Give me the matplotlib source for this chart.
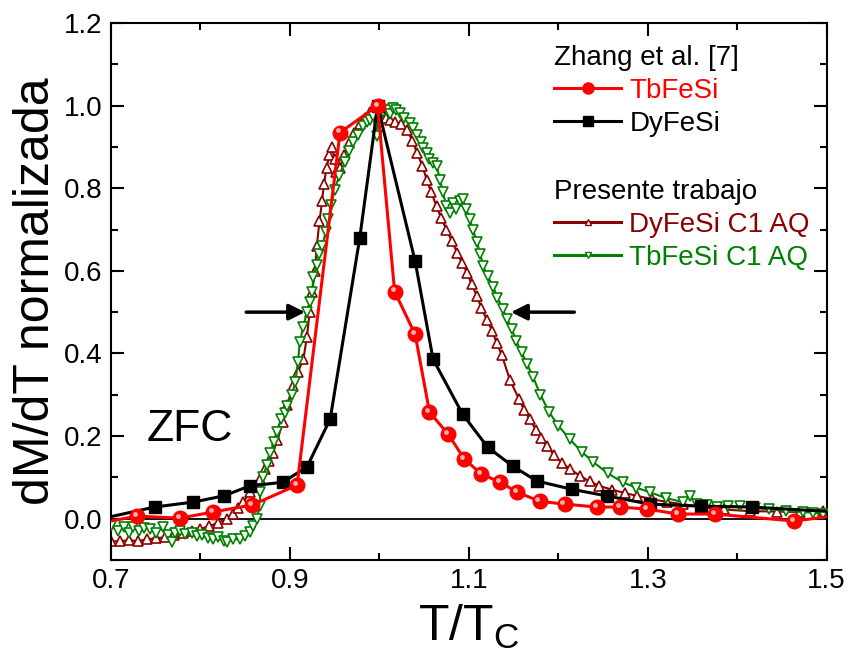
import matplotlib.pyplot as plt
from matplotlib.lines import Line2D
from matplotlib.ticker import MultipleLocator, FixedLocator
from matplotlib.transforms import offset_copy

plt.rcParams['font.family'] = ['Liberation Sans', 'DejaVu Sans']
plt.rcParams['mathtext.fontset'] = 'custom'
plt.rcParams['mathtext.rm'] = 'Liberation Sans'

# Zhang et al. [7] - TbFeSi (red circles)
tb_x = [0.69, 0.729, 0.777, 0.814, 0.858, 0.908, 0.956, 0.998, 1.017, 1.040, 1.056, 1.077,
        1.095, 1.114, 1.135, 1.154, 1.179, 1.207, 1.243, 1.269, 1.299, 1.334, 1.375, 1.464, 1.52]
tb_y = [-0.01, 0.006, 0.001, 0.016, 0.033, 0.081, 0.935, 1.0, 0.55, 0.446, 0.258, 0.204,
        0.144, 0.108, 0.088, 0.064, 0.042, 0.035, 0.028, 0.028, 0.023, 0.011, 0.011, -0.006, 0.01]

# Zhang et al. [7] - DyFeSi (black squares)
dy_x = [0.69, 0.749, 0.792, 0.826, 0.855, 0.892, 0.919, 0.945, 0.978, 0.998, 1.040, 1.060,
        1.093, 1.121, 1.149, 1.176, 1.215, 1.254, 1.302, 1.36, 1.416, 1.52]
dy_y = [0.0, 0.028, 0.040, 0.055, 0.079, 0.088, 0.125, 0.241, 0.679, 1.0, 0.623, 0.386,
        0.253, 0.173, 0.127, 0.091, 0.071, 0.055, 0.035, 0.03, 0.028, 0.015]

# Presente trabajo - DyFeSi C1 AQ (dark red open up-triangles)
dyaq_x = [0.700, 0.710, 0.720, 0.730, 0.740, 0.750, 0.760, 0.770, 0.780, 0.790, 0.800, 0.810,
          0.820, 0.830, 0.836, 0.842, 0.848, 0.855, 0.860, 0.866, 0.872, 0.877, 0.881, 0.886,
          0.892, 0.897, 0.903, 0.909, 0.915, 0.919, 0.922, 0.925, 0.928, 0.930, 0.933, 0.936,
          0.938, 0.941, 0.944, 0.947, 0.950, 0.952, 0.956, 0.960, 0.966, 0.972, 0.978, 0.984,
          0.990, 0.996, 1.002, 1.007, 1.012, 1.018, 1.024, 1.031, 1.037, 1.042, 1.048, 1.053,
          1.058, 1.064, 1.069, 1.075, 1.081, 1.087, 1.092, 1.098, 1.103, 1.109, 1.114, 1.120,
          1.126, 1.131, 1.137, 1.146, 1.156, 1.162, 1.168, 1.175, 1.181, 1.187, 1.195, 1.204,
          1.213, 1.224, 1.235, 1.246, 1.260, 1.274, 1.288, 1.305, 1.322, 1.339, 1.360, 1.385,
          1.414, 1.445, 1.470, 1.496]
dyaq_y = [-0.055, -0.055, -0.052, -0.055, -0.050, -0.048, -0.045, -0.040, -0.036, -0.030, -0.025, -0.018,
          -0.010, 0.000, 0.011, 0.025, 0.040, 0.064, 0.080, 0.096, 0.120, 0.140, 0.160, 0.190,
          0.233, 0.275, 0.320, 0.355, 0.386, 0.440, 0.500, 0.550, 0.600, 0.660, 0.720, 0.770,
          0.810, 0.850, 0.880, 0.900, 0.870, 0.840, 0.850, 0.880, 0.910, 0.935, 0.955, 0.970,
          0.985, 1.000, 0.985, 0.970, 0.966, 0.960, 0.955, 0.940, 0.915, 0.886, 0.855, 0.820,
          0.790, 0.756, 0.728, 0.700, 0.672, 0.644, 0.620, 0.596, 0.568, 0.539, 0.510, 0.482,
          0.455, 0.426, 0.395, 0.335, 0.290, 0.262, 0.241, 0.215, 0.195, 0.176, 0.155, 0.135,
          0.120, 0.104, 0.090, 0.079, 0.070, 0.062, 0.055, 0.047, 0.040, 0.035, 0.028, 0.022,
          0.018, 0.017, 0.016, 0.018]

# Presente trabajo - TbFeSi C1 AQ (green open down-triangles)
tbaq_x = [0.700, 0.708, 0.714, 0.720, 0.725, 0.731, 0.737, 0.744, 0.750, 0.758, 0.764, 0.768,
          0.772, 0.777, 0.783, 0.790, 0.796, 0.802, 0.808, 0.814, 0.820, 0.826, 0.830, 0.836,
          0.844, 0.850, 0.855, 0.859, 0.863, 0.866, 0.867, 0.870, 0.874, 0.878, 0.882, 0.885,
          0.890, 0.894, 0.897, 0.902, 0.906, 0.909, 0.911, 0.915, 0.919, 0.922, 0.925, 0.926,
          0.930, 0.933, 0.936, 0.940, 0.943, 0.946, 0.950, 0.955, 0.961, 0.966, 0.970, 0.976,
          0.982, 0.986, 0.989, 0.993, 0.997, 0.999, 1.004, 1.008, 1.012, 1.015, 1.019, 1.023,
          1.028, 1.034, 1.038, 1.042, 1.046, 1.049, 1.053, 1.056, 1.060, 1.064, 1.068, 1.071,
          1.075, 1.079, 1.082, 1.086, 1.090, 1.093, 1.097, 1.101, 1.105, 1.109, 1.113, 1.116,
          1.121, 1.127, 1.132, 1.138, 1.143, 1.148, 1.153, 1.159, 1.165, 1.172, 1.180, 1.190,
          1.200, 1.213, 1.226, 1.239, 1.255, 1.272, 1.287, 1.302, 1.320, 1.339, 1.347, 1.355,
          1.366, 1.377, 1.390, 1.403, 1.420, 1.436, 1.455, 1.473, 1.485, 1.496]
tbaq_y = [-0.018, -0.030, -0.020, -0.035, -0.020, -0.030, -0.022, -0.025, -0.035, -0.020, -0.040, -0.057,
          -0.035, -0.030, -0.038, -0.035, -0.042, -0.040, -0.048, -0.050, -0.045, -0.055, -0.057, -0.050,
          -0.050, -0.042, -0.033, -0.018, 0.000, 0.030, 0.064, 0.100, 0.130, 0.160, 0.185, 0.210,
          0.240, 0.255, 0.272, 0.300, 0.330, 0.380, 0.427, 0.465, 0.500, 0.525, 0.548, 0.586,
          0.615, 0.640, 0.660, 0.695, 0.725, 0.760, 0.797, 0.830, 0.863, 0.890, 0.911, 0.930,
          0.950, 0.960, 0.966, 0.975, 0.926, 0.999, 0.985, 0.990, 0.980, 0.995, 0.990, 0.983,
          0.970, 0.958, 0.945, 0.930, 0.912, 0.898, 0.885, 0.870, 0.862, 0.853, 0.820, 0.790,
          0.756, 0.740, 0.765, 0.750, 0.770, 0.773, 0.750, 0.725, 0.698, 0.669, 0.640, 0.611,
          0.588, 0.562, 0.535, 0.507, 0.483, 0.459, 0.430, 0.403, 0.375, 0.342, 0.300, 0.257,
          0.225, 0.192, 0.162, 0.137, 0.110, 0.088, 0.075, 0.064, 0.050, 0.040, 0.055, 0.035,
          0.032, 0.028, 0.030, 0.030, 0.025, 0.023, 0.018, 0.016, 0.014, 0.011]

x_ticks = [0.7, 0.9, 1.1, 1.3, 1.5]

red = '#ff0000'
darkred = '#8b0000'
green = '#008000'

fig = plt.figure(figsize=(8.54, 6.61), dpi=100)
ax = fig.add_axes([0.130, 0.153, 0.838, 0.812])

ax.axhline(0, color='black', lw=1.3, zorder=1)

ax.plot(dyaq_x, dyaq_y, color=darkred, lw=1.5, marker='^', ms=7.5, mfc='white',
        mec=darkred, mew=1.2, zorder=2)
ax.plot(tbaq_x, tbaq_y, color=green, lw=1.5, marker='v', ms=7.5, mfc='white',
        mec=green, mew=1.2, zorder=3)
ax.plot(dy_x, dy_y, color='black', lw=2.2, marker='s', ms=9, zorder=4)
ax.plot(tb_x, tb_y, color=red, lw=2.2, marker='o', ms=10.5, zorder=5)
# shading highlight on the red balls
hl = offset_copy(ax.transData, fig=fig, x=-1.5, y=1.5, units='points')
ax.plot(tb_x, tb_y, ls='none', marker='o', ms=3.5, mfc='#ffb0b0', mec='none',
        transform=hl, zorder=6)

# FWHM arrows
ax.annotate('', xy=(0.920, 0.50), xytext=(0.848, 0.50),
            arrowprops=dict(arrowstyle='-|>', color='black', lw=2.5, mutation_scale=24))
ax.annotate('', xy=(1.144, 0.50), xytext=(1.221, 0.50),
            arrowprops=dict(arrowstyle='-|>', color='black', lw=2.5, mutation_scale=24))

ax.text(0.740, 0.187, 'ZFC', fontsize=32)

ax.set_xlim(0.7, 1.5)
ax.set_ylim(-0.1, 1.2)
ax.xaxis.set_major_locator(FixedLocator(x_ticks))
ax.xaxis.set_minor_locator(MultipleLocator(0.1))
ax.yaxis.set_major_locator(MultipleLocator(0.2))
ax.yaxis.set_minor_locator(MultipleLocator(0.1))
ax.xaxis.set_major_formatter(lambda v, p: f'{v:.1f}')
ax.yaxis.set_major_formatter(lambda v, p: f'{abs(v) if abs(v) < 1e-9 else v:.1f}')
ax.tick_params(which='both', direction='in', top=True, right=True, width=1.5,
               labelsize=20, pad=6)
ax.tick_params(which='major', length=9.5)
ax.tick_params(which='minor', length=5)
for s in ax.spines.values():
    s.set_linewidth(1.5)

ax.set_xlabel('T/T$_\\mathregular{C}$', fontsize=36, labelpad=6)
ax.set_ylabel('dM/dT normalizada', fontsize=36, labelpad=4)

# legends
h1 = [Line2D([], [], color=red, lw=2.2, marker='o', ms=8),
      Line2D([], [], color='black', lw=2.2, marker='s', ms=7)]
leg1 = ax.legend(h1, ['TbFeSi', 'DyFeSi'], title='Zhang et al. [7]', loc='upper left',
                 bbox_to_anchor=(0.60, 0.985), frameon=False, fontsize=20, title_fontsize=20,
                 alignment='left', handlelength=2.4, handletextpad=0.3, labelspacing=0.25,
                 borderpad=0, labelcolor='linecolor', numpoints=1)
ax.add_artist(leg1)
h2 = [Line2D([], [], color=darkred, lw=2.2, marker='^', ms=5, mfc='white', mec=darkred),
      Line2D([], [], color=green, lw=2.2, marker='v', ms=5, mfc='white', mec=green)]
ax.legend(h2, ['DyFeSi C1 AQ', 'TbFeSi C1 AQ'], title='Presente trabajo', loc='upper left',
          bbox_to_anchor=(0.60, 0.735), frameon=False, fontsize=20, title_fontsize=20,
          alignment='left', handlelength=2.4, handletextpad=0.3, labelspacing=0.25,
          borderpad=0, labelcolor='linecolor', numpoints=1)

fig.savefig('out.png', dpi=100)
